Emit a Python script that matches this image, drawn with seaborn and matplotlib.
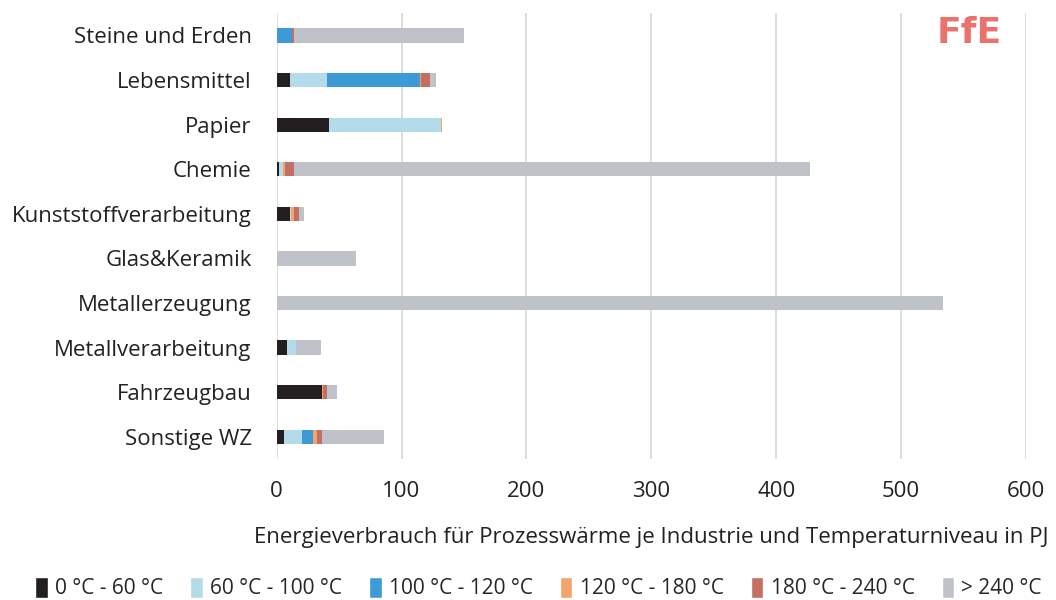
import numpy as np
import pandas as pd
import matplotlib.pyplot as plt
import seaborn as sns
from matplotlib.patches import Patch

branchen = ["Steine und Erden", "Lebensmittel", "Papier", "Chemie",
            "Kunststoffverarbeitung", "Glas&Keramik", "Metallerzeugung",
            "Metallverarbeitung", "Fahrzeugbau", "Sonstige WZ"]
stufen = ["0 °C - 60 °C", "60 °C - 100 °C", "100 °C - 120 °C",
          "120 °C - 180 °C", "180 °C - 240 °C", "> 240 °C"]

# PJ je Temperaturniveau
t_0_60 = [0.0, 10.4, 41.7, 1.6, 11.0, 0.0, 0.0, 8.5, 36.6, 5.9]
t_60_100 = [0.0, 30.0, 90.0, 3.7, 0.5, 0.0, 0.0, 7.0, 0.0, 14.2]
t_100_120 = [12.0, 74.5, 0.0, 0.0, 0.0, 0.0, 0.0, 0.0, 0.0, 9.3]
t_120_180 = [0.0, 1.0, 1.0, 1.6, 2.5, 0.0, 0.0, 0.0, 0.5, 2.9]
t_180_240 = [1.5, 7.0, 0.0, 6.6, 3.5, 0.0, 0.0, 0.0, 3.4, 4.3]
t_ueber_240 = [136.5, 5.0, 0.0, 414.0, 4.5, 63.3, 533.5, 20.3, 8.0, 49.0]

farben = ["#231f20", "#b4dbea", "#3c9ad6", "#f4a46a", "#c46e64", "#bfc3c9"]

df = pd.DataFrame({"Branche": branchen})
werte = [t_0_60, t_60_100, t_100_120, t_120_180, t_180_240, t_ueber_240]
for name, w in zip(stufen, werte):
    df[name] = w
kum = df[stufen].cumsum(axis=1)

sns.set_style("white")
plt.rcParams["font.family"] = ["Open Sans", "DejaVu Sans"]

fig = plt.figure(figsize=(10.56, 6), dpi=100)
ax = fig.add_axes([0.262, 0.235, 0.7095, 0.743])

# gestapelt: von der Gesamtsumme rückwärts übereinander zeichnen
for i in range(len(stufen) - 1, -1, -1):
    sns.barplot(x=kum[stufen[i]], y=df["Branche"], color=farben[i],
                width=0.32, saturation=1, orient="h", ax=ax, zorder=3,
                linewidth=0)

ax.set_xlim(0, 600)
ax.set_xticks(range(0, 601, 100))
ax.grid(axis="x", color="#d9dadd", linewidth=1.3, zorder=0)
ax.set_axisbelow(True)
for s in ax.spines.values():
    s.set_visible(False)
ax.tick_params(axis="both", length=0, labelsize=16, colors="#222222")
ax.tick_params(axis="x", pad=16)
ax.tick_params(axis="y", pad=18)
ax.set_ylabel("")
ax.set_xlabel("Energieverbrauch für Prozesswärme je Industrie und Temperaturniveau in PJ",
              fontsize=16, color="#222222", labelpad=18)

handles = [Patch(facecolor=c, label=l) for c, l in zip(farben, stufen)]
fig.legend(handles=handles, loc="lower center", bbox_to_anchor=(0.51, -0.03),
           ncol=6, frameon=False, fontsize=15, handlelength=0.6,
           handleheight=1.2, handletextpad=0.35, columnspacing=1.3)

fig.text(0.918, 0.945, "FfE", fontsize=26, fontweight="bold", color="#e8625c",
         ha="center", va="center", family=["Liberation Sans Narrow", "DejaVu Sans"],
         alpha=0.9)

fig.savefig("out.png", dpi=100)
